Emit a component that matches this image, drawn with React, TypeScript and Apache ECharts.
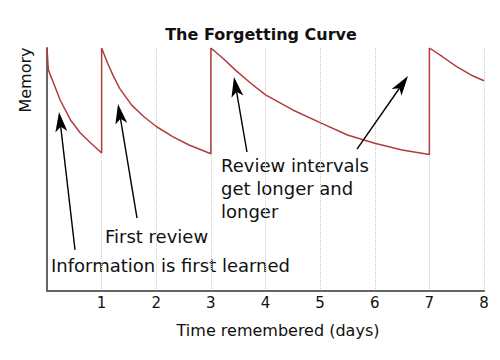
import React, { useEffect, useRef } from "react";
import * as echarts from "echarts";

const titleText = "The Forgetting Curve";
const xAxisTitle = "Time remembered (days)";
const yAxisTitle = "Memory";
const dayTicks = [1, 2, 3, 4, 5, 6, 7, 8];

const curveDays = [
  0, 0.024, 0.12, 0.24, 0.43, 0.61, 0.8, 1,
  1, 1.11, 1.22, 1.33, 1.55, 1.77, 2, 2.3, 2.6, 3,
  3, 3.22, 3.45, 3.73, 4, 4.5, 5, 5.5, 6, 6.5, 7,
  7, 7.24, 7.5, 7.76, 8,
];
const memoryLevel = [
  1.0, 0.91, 0.856, 0.786, 0.704, 0.65, 0.609, 0.568,
  1.0, 0.937, 0.882, 0.834, 0.765, 0.718, 0.677, 0.635, 0.601, 0.565,
  1.0, 0.958, 0.909, 0.855, 0.807, 0.745, 0.693, 0.642, 0.608, 0.58, 0.562,
  1.0, 0.964, 0.923, 0.889, 0.865,
];

const arrowFrom = [
  [0.513, 0.169],
  [1.648, 0.3],
  [3.661, 0.572],
  [5.675, 0.584],
];
const arrowTo = [
  [0.22, 0.737],
  [1.3, 0.77],
  [3.423, 0.881],
  [6.609, 0.885],
];

const annotations = [
  "Review intervals\nget longer and\nlonger",
  "First review",
  "Information is first learned",
];

const FONT = "DejaVu Sans";

export default function App() {
  const ref = useRef<HTMLDivElement>(null);
  useEffect(() => {
    if (!ref.current) return;
    const chart = echarts.init(ref.current, null, { renderer: "svg" });
    const curve = curveDays.map((d, i) => [d, memoryLevel[i]]);
    const arrows = arrowFrom.map((f, i) => [f[0], f[1], arrowTo[i][0], arrowTo[i][1]]);
    chart.setOption({
      animation: false,
      backgroundColor: "#fff",
      title: {
        text: titleText,
        left: 256,
        top: 21,
        textAlign: "center",
        textStyle: { fontFamily: FONT, fontSize: 16, fontWeight: "bold", color: "#111" },
      },
      grid: { left: 47, right: 16, top: 48, bottom: 69 },
      xAxis: {
        type: "value",
        min: 0,
        max: 8,
        interval: 1,
        axisLine: { show: true, lineStyle: { color: "#666", width: 2 } },
        axisTick: { show: false },
        axisLabel: {
          formatter: (v: number) => (dayTicks.includes(v) ? String(v) : ""),
          color: "#111",
          fontFamily: FONT,
          fontSize: 15,
          margin: 4,
        },
        splitLine: { show: true, lineStyle: { color: "#c8c8c8", type: "dotted", width: 1 } },
      },
      yAxis: {
        type: "value",
        min: 0,
        max: 1,
        axisLine: { show: true, lineStyle: { color: "#666", width: 2 } },
        axisTick: { show: false },
        axisLabel: { show: false },
        splitLine: { show: false },
      },
      series: [
        {
          type: "line",
          data: curve,
          showSymbol: false,
          symbol: "none",
          lineStyle: { color: "#b33b3b", width: 1.5 },
          z: 3,
        },
        {
          type: "custom",
          coordinateSystem: "cartesian2d",
          data: arrows,
          encode: { x: [0, 2], y: [1, 3] },
          silent: true,
          clip: false,
          z: 5,
          renderItem: (_params: any, api: any) => {
            const a = api.coord([api.value(0), api.value(1)]);
            const b = api.coord([api.value(2), api.value(3)]);
            const dx = b[0] - a[0];
            const dy = b[1] - a[1];
            const L = Math.hypot(dx, dy);
            const ux = dx / L;
            const uy = dy / L;
            const px = -uy;
            const py = ux;
            const len = 20;
            const hw = 6;
            const notch = 15;
            const bx = b[0] - ux * len;
            const by = b[1] - uy * len;
            const nx = b[0] - ux * notch;
            const ny = b[1] - uy * notch;
            return {
              type: "group",
              children: [
                {
                  type: "line",
                  shape: { x1: a[0], y1: a[1], x2: nx, y2: ny },
                  style: { stroke: "#000", lineWidth: 1.4 },
                },
                {
                  type: "polygon",
                  shape: {
                    points: [
                      [b[0], b[1]],
                      [bx + px * hw, by + py * hw],
                      [nx, ny],
                      [bx - px * hw, by - py * hw],
                    ],
                  },
                  style: { fill: "#000" },
                },
              ],
            };
          },
        },
      ],
      graphic: [
        {
          type: "text",
          x: 25,
          y: 80,
          rotation: Math.PI / 2,
          style: {
            text: yAxisTitle,
            fontFamily: FONT,
            fontSize: 16,
            fill: "#111",
            textAlign: "center",
            textVerticalAlign: "middle",
          },
        },
        {
          type: "text",
          x: 278,
          y: 330,
          style: {
            text: xAxisTitle,
            fontFamily: FONT,
            fontSize: 16,
            fill: "#111",
            textAlign: "center",
            textVerticalAlign: "middle",
          },
        },
        {
          type: "text",
          x: 221,
          y: 154,
          style: {
            text: annotations[0],
            fontFamily: FONT,
            fontSize: 18,
            lineHeight: 23,
            fill: "#111",
            textAlign: "left",
            textVerticalAlign: "top",
          },
        },
        {
          type: "text",
          x: 105,
          y: 236,
          style: {
            text: annotations[1],
            fontFamily: FONT,
            fontSize: 18,
            fill: "#111",
            textAlign: "left",
            textVerticalAlign: "middle",
          },
        },
        {
          type: "text",
          x: 51,
          y: 265,
          style: {
            text: annotations[2],
            fontFamily: FONT,
            fontSize: 18,
            fill: "#111",
            textAlign: "left",
            textVerticalAlign: "middle",
          },
        },
      ],
    });
    return () => chart.dispose();
  }, []);
  return <div ref={ref} style={{ width: 500, height: 360, margin: -8 }} />;
}
